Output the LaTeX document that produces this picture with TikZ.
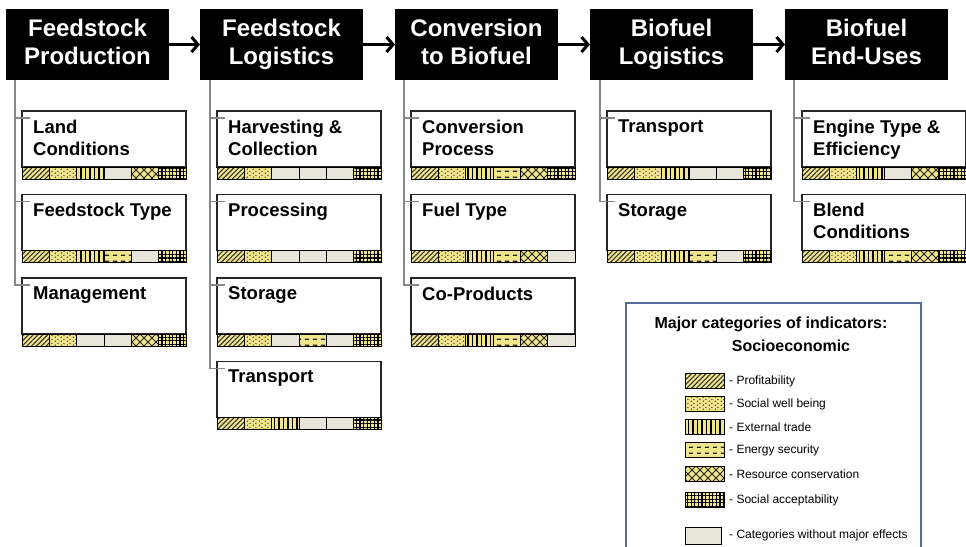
\documentclass[tikz,border=0pt]{standalone}
\usepackage{fontspec}
\setmainfont{Liberation Sans}
\usetikzlibrary{patterns.meta,arrows.meta,calc}

\definecolor{pyel}{RGB}{240,228,140}
\definecolor{pplain}{RGB}{231,229,218}
\definecolor{connc}{RGB}{135,135,135}
\definecolor{legb}{RGB}{85,110,155}

\pgfdeclarepattern{name=esdots, type=uncolored,
  bottom left={\pgfpoint{0pt}{0pt}}, top right={\pgfpoint{6pt}{4pt}},
  tile size={\pgfpoint{6pt}{4pt}},
  code={\pgfpathcircle{\pgfpoint{1.5pt}{1pt}}{0.8pt}\pgfpathcircle{\pgfpoint{4.5pt}{3pt}}{0.8pt}\pgfusepath{fill}}}
\pgfdeclarepattern{name=esdash, type=uncolored,
  bottom left={\pgfpoint{0pt}{0pt}}, top right={\pgfpoint{8pt}{6pt}},
  tile size={\pgfpoint{8pt}{6pt}},
  code={\pgfpathrectangle{\pgfpoint{1pt}{2.3pt}}{\pgfpoint{4.5pt}{1.5pt}}\pgfusepath{fill}}}
\pgfdeclarepattern{name=esdiam, type=uncolored,
  bottom left={\pgfpoint{-0.5pt}{-0.5pt}}, top right={\pgfpoint{8.5pt}{8.5pt}},
  tile size={\pgfpoint{8pt}{8pt}},
  code={\pgfsetlinewidth{1pt}\pgfpathmoveto{\pgfpoint{0pt}{0pt}}\pgfpathlineto{\pgfpoint{8pt}{8pt}}\pgfpathmoveto{\pgfpoint{0pt}{8pt}}\pgfpathlineto{\pgfpoint{8pt}{0pt}}\pgfusepath{stroke}}}

\tikzset{
  segbase/.style={draw=black, line width=0.9pt},
  segP/.style={segbase, preaction={fill=pyel}, pattern={Lines[angle=45,distance=3.4pt,line width=1.1pt]}, pattern color=black!80},
  segS/.style={segbase, preaction={fill=pyel}, pattern=esdots, pattern color=black!85},
  segE/.style={segbase, preaction={fill=pyel}, pattern={Lines[angle=90,distance=4.5pt,line width=1.5pt]}, pattern color=black},
  segN/.style={segbase, preaction={fill=pyel}, pattern=esdash, pattern color=black!85},
  segR/.style={segbase, preaction={fill=pyel}, pattern=esdiam, pattern color=black!85},
  segA/.style={segbase, preaction={fill=pyel}, pattern={Hatch[angle=0,distance=3.6pt,line width=1.1pt]}, pattern color=black},
  seg0/.style={segbase, fill=pplain},
  header/.style={fill=black, text=white, font=\bfseries\fontsize{24}{28}\selectfont, align=center,
    minimum width=163pt, minimum height=71pt, inner sep=0pt, outer sep=0pt, anchor=north west},
  subbox/.style={draw=black!85, line width=1.1pt, fill=white, minimum width=164pt, minimum height=56pt,
    inner sep=0pt, outer sep=0pt, anchor=north west},
  subtext/.style={anchor=north west, inner sep=0pt, align=left, font=\bfseries\fontsize{18.5}{22}\selectfont},
  connl/.style={draw=connc, line width=1.2pt},
  flow/.style={draw=black, line width=3pt, -{Straight Barb[length=6.5pt,width=15pt]}},
  legbox/.style={draw=legb, line width=1.5pt, fill=white, minimum width=295pt, minimum height=270pt,
    inner sep=0pt, anchor=north west},
  legtitle/.style={font=\bfseries\fontsize{16}{19}\selectfont, inner sep=0pt},
  sw/.style={minimum width=39pt, minimum height=15pt, inner sep=0pt},
  legtxt/.style={font=\fontsize{12}{14}\selectfont, anchor=west, inner sep=0pt}
}

\newcommand\indbar[2]{%
  \foreach \c [count=\i from 0] in {#2}{%
    \edef\segcmd{\noexpand\path[seg\c]}%
    \segcmd ([xshift=\i*27.333pt]#1.south west) rectangle ++(27.333,12);
  }}

\begin{document}
\begin{tikzpicture}[x=1pt,y=-1pt]
\path[use as bounding box, clip] (0,0) rectangle (966,546);
\fill[white] (0,0) rectangle (966,546);

% headers
\node[header] (h1) at (6,9) {\strut Feedstock\\\strut Production};
\node[header] (h2) at (200,9) {\strut Feedstock\\\strut Logistics};
\node[header] (h3) at (395,9) {\strut Conversion\\\strut to Biofuel};
\node[header] (h4) at (590,9) {\strut Biofuel\\\strut Logistics};
\node[header] (h5) at (785,9) {\strut Biofuel\\\strut End-Uses};

\draw[flow] (h1) -- (h2);
\draw[flow] (h2) -- (h3);
\draw[flow] (h3) -- (h4);
\draw[flow] (h4) -- (h5);

% column 1
\node[subbox] (b11) at (22,111) {};
\node[subbox] (b12) at (22,194.5) {};
\node[subbox] (b13) at (22,278) {};
% column 2
\node[subbox] (b21) at (217,111) {};
\node[subbox] (b22) at (217,194.5) {};
\node[subbox] (b23) at (217,278) {};
\node[subbox] (b24) at (217,361.5) {};
% column 3
\node[subbox] (b31) at (411,111) {};
\node[subbox] (b32) at (411,194.5) {};
\node[subbox] (b33) at (411,278) {};
% column 4
\node[subbox] (b41) at (607,111) {};
\node[subbox] (b42) at (607,194.5) {};
% column 5
\node[subbox] (b51) at (802,111) {};
\node[subbox] (b52) at (802,194.5) {};

% texts
\node[subtext] (t11) at ([xshift=11pt,yshift=-8.5pt]b11.north west) {Land\\Conditions};
\node[subtext] (t12) at ([xshift=11pt,yshift=-8.5pt]b12.north west) {Feedstock Type};
\node[subtext] (t13) at ([xshift=11pt,yshift=-8.5pt]b13.north west) {Management};
\node[subtext] (t21) at ([xshift=11pt,yshift=-8.5pt]b21.north west) {Harvesting \&\\Collection};
\node[subtext] (t22) at ([xshift=11pt,yshift=-8.5pt]b22.north west) {Processing};
\node[subtext] (t23) at ([xshift=11pt,yshift=-8.5pt]b23.north west) {Storage};
\node[subtext] (t24) at ([xshift=11pt,yshift=-8.5pt]b24.north west) {Transport};
\node[subtext] (t31) at ([xshift=11pt,yshift=-8.5pt]b31.north west) {Conversion\\Process};
\node[subtext] (t32) at ([xshift=11pt,yshift=-8.5pt]b32.north west) {Fuel Type};
\node[subtext] (t33) at ([xshift=11pt,yshift=-8.5pt]b33.north west) {Co-Products};
\node[subtext] (t41) at ([xshift=11pt,yshift=-8.5pt]b41.north west) {Transport};
\node[subtext] (t42) at ([xshift=11pt,yshift=-8.5pt]b42.north west) {Storage};
\node[subtext] (t51) at ([xshift=11pt,yshift=-8.5pt]b51.north west) {Engine Type \&\\Efficiency};
\node[subtext] (t52) at ([xshift=11pt,yshift=-8.5pt]b52.north west) {Blend\\Conditions};

% bars
\indbar{b11}{P,S,E,0,R,A}
\indbar{b12}{P,S,E,N,0,A}
\indbar{b13}{P,S,0,0,R,A}
\indbar{b21}{P,S,0,0,0,A}
\indbar{b22}{P,S,0,0,0,A}
\indbar{b23}{P,S,0,N,0,A}
\indbar{b24}{P,S,E,0,0,A}
\indbar{b31}{P,S,E,N,R,A}
\indbar{b32}{P,S,E,N,R,0}
\indbar{b33}{P,S,E,N,R,0}
\indbar{b41}{P,S,E,0,0,A}
\indbar{b42}{P,S,E,N,0,A}
\indbar{b51}{P,S,E,0,R,A}
\indbar{b52}{P,S,E,N,R,A}

% connectors
\coordinate (v1) at ([xshift=9pt]h1.south west);
\coordinate (v2) at ([xshift=10pt]h2.south west);
\coordinate (v3) at ([xshift=9pt]h3.south west);
\coordinate (v4) at ([xshift=10pt]h4.south west);
\coordinate (v5) at ([xshift=9pt]h5.south west);
\foreach \v/\b in {v1/b11,v1/b12,v1/b13,v2/b21,v2/b22,v2/b23,v2/b24,v3/b31,v3/b32,v3/b33,v4/b41,v4/b42,v5/b51,v5/b52}
  \draw[connl] (\v) |- ([xshift=8pt,yshift=-7pt]\b.north west);

% legend
\node[legbox] (leg) at (625,302) {};
\node[legtitle] (lgt1) at (771,324) {Major categories of indicators:};
\node[legtitle] (lgt2) at (791,346) {Socioeconomic};
\node[sw,segP] (l1) at (704.5,381) {};
\node[sw,segS] (l2) at (704.5,404) {};
\node[sw,segE] (l3) at (704.5,427) {};
\node[sw,segN] (l4) at (704.5,450) {};
\node[sw,segR] (l5) at (704.5,474) {};
\node[sw,segA] (l6) at (704.5,500) {};
\node[seg0, minimum width=36pt, minimum height=17pt, inner sep=0pt] (l7) at (703,535.5) {};
\node[legtxt] (lt1) at (729,381) {- Profitability};
\node[legtxt] (lt2) at (729,404) {- Social well being};
\node[legtxt] (lt3) at (729,427) {- External trade};
\node[legtxt] (lt4) at (729,450) {- Energy security};
\node[legtxt] (lt5) at (729,474) {- Resource conservation};
\node[legtxt] (lt6) at (729,500) {- Social acceptability};
\node[legtxt] (lt7) at (729,535.5) {- Categories without major effects};
\end{tikzpicture}
\end{document}
